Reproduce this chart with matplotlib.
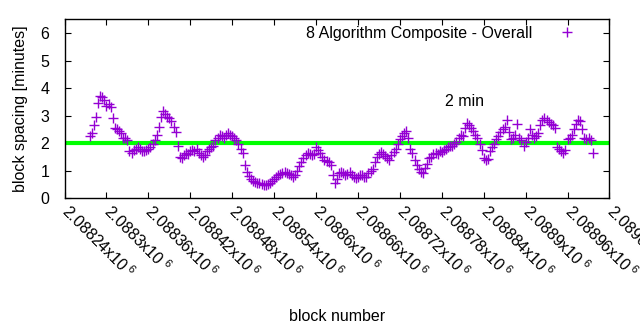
import numpy as np
import matplotlib
matplotlib.use("Agg")
import matplotlib.pyplot as plt

plt.rcParams['font.family'] = ['Liberation Sans', 'DejaVu Sans']
plt.rcParams['mathtext.fontset'] = 'custom'
plt.rcParams['mathtext.rm'] = 'Liberation Sans'
plt.rcParams['mathtext.it'] = 'Liberation Sans'

series_label = "8 Algorithm Composite - Overall"
first_block = 2088276
block_step = 3
spacing = [
    2.25, 2.35, 2.65, 2.95, 3.45, 3.72, 3.68, 3.55, 3.35, 3.42,
    3.3, 2.9, 2.55, 2.5, 2.45, 2.35, 2.2, 2.2, 2.1, 1.7,
    1.65, 1.75, 1.8, 1.85, 1.8, 1.72, 1.7, 1.75, 1.8, 1.85,
    1.95, 2.1, 2.3, 2.6, 2.95, 3.15, 3.05, 2.95, 2.9, 2.8,
    2.6, 2.4, 1.9, 1.5, 1.45, 1.55, 1.65, 1.6, 1.7, 1.75,
    1.72, 1.8, 1.65, 1.55, 1.5, 1.55, 1.7, 1.8, 1.85, 1.9,
    2.1, 2.2, 2.3, 2.25, 2.2, 2.28, 2.35, 2.3, 2.25, 2.2,
    2.1, 1.95, 1.8, 1.65, 1.2, 0.95, 0.8, 0.7, 0.62, 0.58,
    0.56, 0.55, 0.5, 0.47, 0.48, 0.5, 0.55, 0.62, 0.7, 0.78,
    0.82, 0.86, 0.9, 0.93, 0.92, 0.88, 0.82, 0.78, 0.85, 1.0,
    1.15, 1.3, 1.45, 1.55, 1.65, 1.6, 1.55, 1.6, 1.85, 1.75,
    1.65, 1.5, 1.4, 1.35, 1.3, 1.2, 0.85, 0.55, 0.7, 0.9,
    0.95, 0.9, 0.85, 0.88, 0.93, 0.85, 0.75, 0.72, 0.78, 0.84,
    0.82, 0.76, 0.78, 0.9, 0.98, 1.05, 1.3, 1.5, 1.6, 1.68,
    1.6, 1.52, 1.45, 1.4, 1.55, 1.68, 1.8, 1.95, 2.15, 2.25,
    2.35, 2.45, 2.2, 1.8, 1.65, 1.4, 1.2, 1.05, 0.95, 0.9,
    1.1, 1.25, 1.45, 1.5, 1.6, 1.65, 1.6, 1.7, 1.68, 1.75,
    1.8, 1.85, 1.9, 1.88, 1.95, 2.05, 2.2, 2.3, 2.25, 2.55,
    2.72, 2.65, 2.55, 2.45, 2.3, 2.2, 1.95, 1.75, 1.45, 1.4,
    1.42, 1.7, 1.85, 1.95, 2.15, 2.25, 2.4, 2.5, 2.6, 2.85,
    2.4, 2.15, 2.2, 2.3, 2.7, 2.2, 2.1, 1.9, 2.05, 2.2,
    2.5, 2.3, 2.2, 2.25, 2.35, 2.65, 2.85, 2.92, 2.85, 2.75,
    2.7, 2.65, 2.55, 1.85, 1.78, 1.72, 1.65, 1.75, 2.15, 2.2,
    2.3, 2.5, 2.7, 2.82, 2.8, 2.5, 2.2, 2.15, 2.2, 2.1,
    1.65,
]
target_minutes = 2
target_label = "2 min"
x_ticks = [2088240, 2088300, 2088360, 2088420, 2088480, 2088540, 2088600,
           2088660, 2088720, 2088780, 2088840, 2088900, 2088960, 2089020]
y_ticks = [0, 1, 2, 3, 4, 5, 6]

blocks = first_block + block_step * np.arange(len(spacing))

FS = 11.5
fig = plt.figure(figsize=(6.4, 3.3), dpi=100)
ax = fig.add_axes([0.1008, 0.40, 0.8515, 0.5415])

purple = '#9400D3'
ax.plot(blocks, spacing, linestyle='none', marker='+', markersize=7,
        markeredgewidth=1.0, color=purple, label=series_label, zorder=3)
ax.axhline(target_minutes, color='#00FF00', linewidth=3.0, zorder=2)
ax.text(2088785, 3.5, target_label, fontsize=FS, ha='left', va='center')

ax.set_xlim(2088240, 2089020)
ax.set_ylim(0, 6.5)
ax.set_yticks(y_ticks)
ax.set_xticks(x_ticks)

def fmt(v):
    s = ("%.5f" % (v / 1e6)).rstrip('0').rstrip('.')
    return s + "x10$^{\\ 6}$"

ax.set_xticklabels([fmt(v) for v in x_ticks], rotation=-45, ha='left',
                   va='center', rotation_mode='anchor', fontsize=FS)
ax.tick_params(axis='y', labelsize=FS, pad=11)
ax.tick_params(direction='in', top=True, right=True, length=4, width=0.8)
ax.tick_params(axis='x', pad=7)
for s in ax.spines.values():
    s.set_linewidth(1.0)

ax.set_xlabel("block number", fontsize=FS, labelpad=20)
ax.set_ylabel("block spacing [minutes]", fontsize=FS, labelpad=9)

ax.legend(loc='upper right', frameon=False, markerfirst=False, fontsize=FS,
          bbox_to_anchor=(0.9555, 1.0), borderaxespad=0, handlelength=1.5,
          handletextpad=1.41)

fig.savefig("out.png", dpi=100)
